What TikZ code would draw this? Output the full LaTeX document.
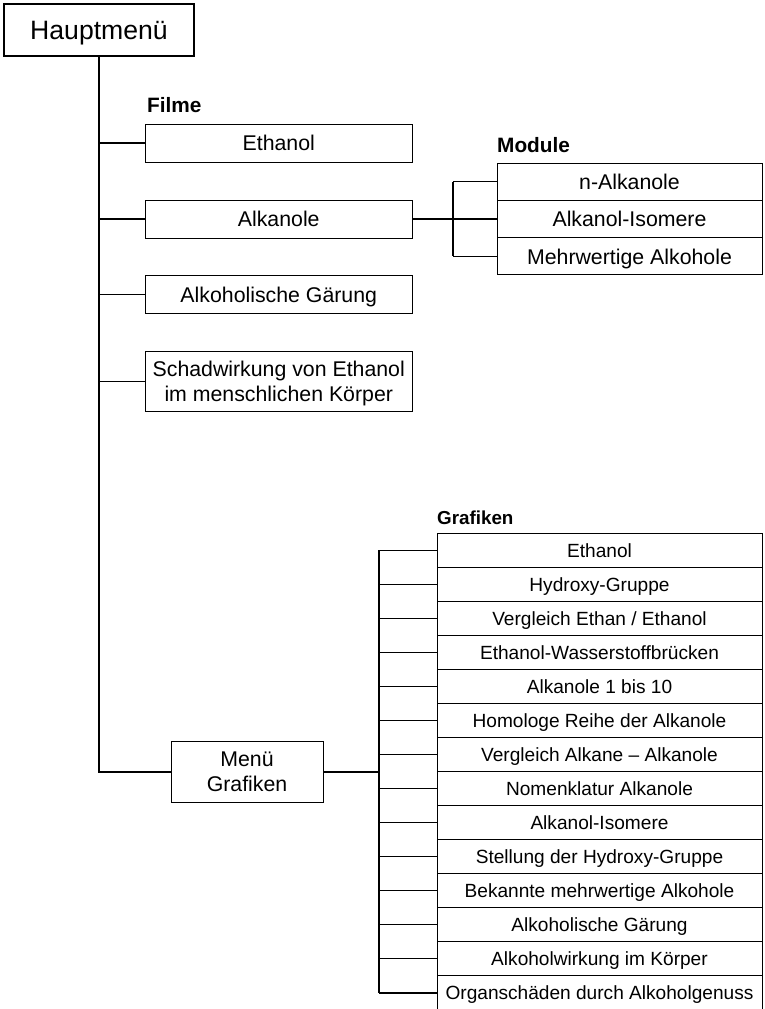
\documentclass[tikz,border=0pt]{standalone}
\usepackage{fontspec}
\setmainfont{Liberation Sans}
\usetikzlibrary{positioning,calc}
\tikzset{
  wire/.style  = {line width=1.1pt},
  bwire/.style = {line width=1.5pt},
  twire/.style = {line width=2pt},
  hbox/.style  = {draw, line width=2pt, minimum width=190pt, minimum height=52pt,
                  inner sep=0pt, text depth=0pt, font=\fontsize{26.6}{30}\selectfont},
  fbox/.style  = {draw, line width=1pt, minimum width=266.5pt, minimum height=38pt,
                  inner sep=0pt, align=center, text depth=0pt,
                  font=\fontsize{21.3}{25}\selectfont},
  mbox/.style  = {fbox, minimum width=265pt, minimum height=37.33pt},
  gbox/.style  = {draw, line width=1pt, minimum width=325pt, minimum height=34.05pt,
                  inner sep=0pt, text depth=0pt, font=\fontsize{19.1}{22}\selectfont},
  lbl/.style   = {anchor=west, inner sep=0pt, font=\bfseries\fontsize{20.8}{24}\selectfont},
}
\begin{document}
\begin{tikzpicture}[x=1pt,y=-1pt]
  \useasboundingbox (0,0) rectangle (764,1009);
  \node[hbox] (haupt) at (99,30) {Hauptmenü};
  \node[lbl] (filme) at (147,105) {Filme};
  \node[fbox] (f1) at (278.75,143) {Ethanol};
  \node[fbox] (f2) at (278.75,219) {Alkanole};
  \node[fbox] (f3) at (278.75,294.5) {Alkoholische Gärung};
  \node[fbox, minimum height=60pt] (f4) at (278.75,381.7)
    {Schadwirkung von Ethanol\\im menschlichen Körper};
  \node[fbox, minimum width=152pt, minimum height=61pt] (mgraf) at (247,771.5)
    {Menü\\Grafiken};
  \draw[twire] (haupt.south) |- (mgraf.west);
  \foreach \i in {1,...,4}
    \draw[wire] (f\i.west) -- (f\i.west -| haupt.south);
  \node[lbl] (module) at (497,145) {Module};
  \node[mbox] (m1) at (629.5,181.67) {n-Alkanole};
  \node[mbox] (m2) at (629.5,219) {Alkanol-Isomere};
  \node[mbox] (m3) at (629.5,256.33) {Mehrwertige Alkohole};
  \coordinate (mbus) at (453,219);
  \draw[twire] (f2.east) -- (mbus);
  \draw[wire] (m1.west -| mbus) -- (m3.west -| mbus);
  \foreach \i in {1,2,3}
    \draw[wire] (m\i.west) -- (m\i.west -| mbus);
  \node[lbl, font=\bfseries\fontsize{18.8}{22}\selectfont] (grafiken) at (437,518) {Grafiken};
  \foreach \t [count=\i] in {Ethanol, Hydroxy-Gruppe, Vergleich Ethan / Ethanol,
      Ethanol-Wasserstoffbrücken, Alkanole 1 bis 10, Homologe Reihe der Alkanole,
      Vergleich Alkane – Alkanole, Nomenklatur Alkanole, Alkanol-Isomere,
      Stellung der Hydroxy-Gruppe, Bekannte mehrwertige Alkohole,
      Alkoholische Gärung, Alkoholwirkung im Körper,
      Organschäden durch Alkoholgenuss}
    \node[gbox] (g\i) at (599.5,{550.33+(\i-1)*34.05}) {\t};
  \coordinate (gbus) at (379,771.5);
  \draw[twire] (mgraf.east) -- (gbus);
  \draw[bwire] (g1.west -| gbus) -- (g14.west -| gbus);
  \foreach \i in {1,...,14}
    \draw[wire] (g\i.west) -- (g\i.west -| gbus);
\end{tikzpicture}
\end{document}
